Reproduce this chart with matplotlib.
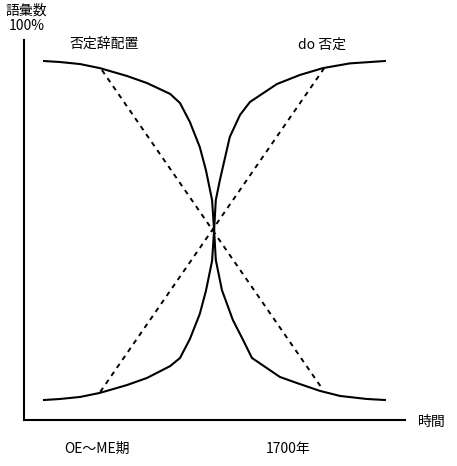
import matplotlib
matplotlib.use('Agg')
import matplotlib.pyplot as plt

plt.rcParams['font.family'] = ['Noto Sans CJK JP', 'DejaVu Sans']

# time (0-100, arbitrary) and vocabulary share (%)
neg_x = [0, 4.7, 10.6, 16.4, 24.3, 30.2, 37.0, 39.9, 42.8, 45.7, 47.5, 49.3, 49.9,
         50.4, 52.2, 55.4, 58.4, 61.0, 65.4, 69.2, 74.2, 80.9, 86.8, 94.7, 100]
neg_y = [100, 99.7, 99.1, 97.9, 95.6, 93.5, 90.3, 87.6, 82.0, 74.6, 67.8, 59.0, 50.1,
         41.3, 32.4, 23.6, 17.7, 12.4, 9.4, 6.8, 5.0, 2.7, 1.2, 0.3, 0]

do_x = [0, 4.7, 10.6, 16.4, 24.3, 30.2, 37.0, 39.9, 42.8, 45.7, 47.5, 49.3, 49.9,
        50.4, 51.6, 54.5, 57.5, 60.4, 68.3, 75.1, 81.8, 89.7, 100]
do_y = [0, 0.3, 0.9, 2.1, 4.4, 6.5, 10.0, 12.4, 18.0, 25.4, 32.2, 41.0, 50.1,
        59.0, 64.9, 77.6, 84.1, 87.9, 93.2, 95.9, 97.9, 99.3, 100]

# straight (linear) comparison lines
neg_lin_x = [17.0, 81.5]
neg_lin_y = [97.3, 3.5]
do_lin_x = [16.5, 82.2]
do_lin_y = [2.4, 97.9]

period_pos = [15.5, 71.6]
period_labels = ['OE～ME期', '1700年']

W, H = 457, 466
fig = plt.figure(figsize=(W / 100, H / 100), dpi=100)
ax = fig.add_axes([24 / W, (H - 420) / H, 381 / W, 380 / H])

ax.plot(neg_x, neg_y, color='black', lw=1.5)
ax.plot(do_x, do_y, color='black', lw=1.5)
ax.plot(neg_lin_x, neg_lin_y, color='black', lw=1.4, linestyle=(0, (2.5, 2.5)))
ax.plot(do_lin_x, do_lin_y, color='black', lw=1.4, linestyle=(0, (2.5, 2.5)))

ax.set_xlim(-5.87, 105.9)
ax.set_ylim(-5.9, 106.2)
for s in ['top', 'right']:
    ax.spines[s].set_visible(False)
for s in ['left', 'bottom']:
    ax.spines[s].set_linewidth(1.5)
ax.set_yticks([])
ax.set_xticks(period_pos)
ax.set_xticklabels(period_labels, fontsize=10)
ax.tick_params(axis='x', length=0, pad=16)


def px_text(x, y, s, **kw):
    fig.text(x / W, 1 - y / H, s, ha='center', va='center', fontsize=10, **kw)


px_text(26, 11, '語彙数')
px_text(27, 26, '100%')
px_text(104, 44, '否定辞配置')
px_text(322, 45, 'do 否定')
px_text(432, 422, '時間')

fig.savefig('out.png', dpi=100)
